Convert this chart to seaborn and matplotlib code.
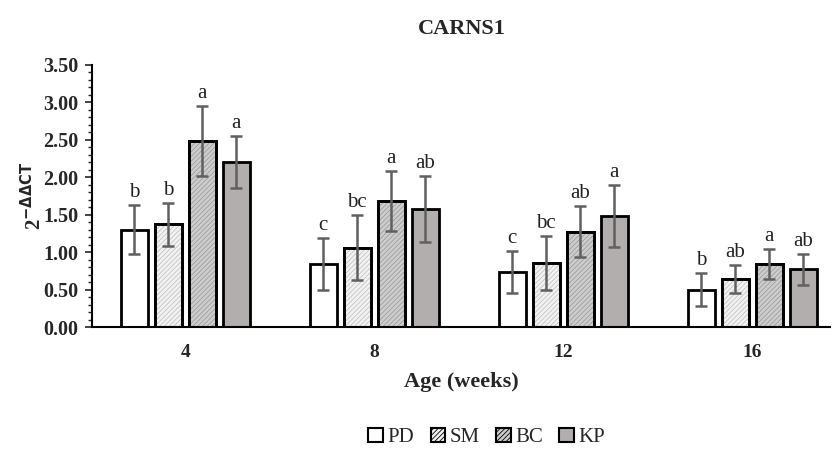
import numpy as np
import pandas as pd
import matplotlib
matplotlib.use("Agg")
import matplotlib.pyplot as plt
import seaborn as sns
from matplotlib.ticker import MultipleLocator
from matplotlib.patches import Patch, Rectangle

weeks = ["4", "8", "12", "16"]
groups = ["PD", "SM", "BC", "KP"]
means = {
    "PD": [1.30, 0.84, 0.74, 0.50],
    "SM": [1.37, 1.06, 0.86, 0.64],
    "BC": [2.48, 1.68, 1.27, 0.84],
    "KP": [2.20, 1.58, 1.48, 0.77],
}
errs = {
    "PD": [0.33, 0.35, 0.28, 0.22],
    "SM": [0.29, 0.43, 0.36, 0.19],
    "BC": [0.47, 0.40, 0.34, 0.20],
    "KP": [0.35, 0.44, 0.41, 0.21],
}
letters = {
    "PD": ["b", "c", "c", "b"],
    "SM": ["b", "bc", "bc", "ab"],
    "BC": ["a", "a", "ab", "a"],
    "KP": ["a", "ab", "a", "ab"],
}

sns.set_style("white")
plt.rcParams["font.family"] = ["Liberation Serif", "DejaVu Serif"]
plt.rcParams["hatch.linewidth"] = 0.6

rows = []
for g in groups:
    for i, w in enumerate(weeks):
        rows.append({"Week": w, "Group": g, "Value": means[g][i]})
df = pd.DataFrame(rows)

face = {"PD": "#ffffff", "SM": "#f2f2f2", "BC": "#cdcdcd", "KP": "#b3aeae"}
hatch = {"PD": "", "SM": "///////", "BC": "///////", "KP": ""}
hcol = {"PD": "black", "SM": "#c4c4c4", "BC": "#9e9e9e", "KP": "black"}

fig = plt.figure(figsize=(8.39, 4.5), dpi=100)
ax = fig.add_axes([0.110, 0.273, 0.879, 0.583])
sns.barplot(data=df, x="Week", y="Value", hue="Group", order=weeks, hue_order=groups,
            errorbar=None, width=0.72, gap=0.22, ax=ax, legend=False)

conts = list(ax.containers)
for gi, cont in enumerate(conts):
    g = groups[gi]
    for i, bar in enumerate(cont):
        bar.set_facecolor(face[g])
        bar.set_edgecolor("black")
        bar.set_linewidth(2.0)
        if hatch[g]:
            x0, y0 = bar.get_x(), bar.get_y()
            wd, ht = bar.get_width(), bar.get_height()
            r = Rectangle((x0, y0), wd, ht, facecolor="none", edgecolor=hcol[g],
                          hatch=hatch[g], linewidth=0, zorder=bar.get_zorder() + 0.1)
            ax.add_patch(r)
            r2 = Rectangle((x0, y0), wd, ht, facecolor="none", edgecolor="black",
                           linewidth=2.0, zorder=bar.get_zorder() + 0.2)
            ax.add_patch(r2)
        xc = bar.get_x() + bar.get_width() / 2
        m = means[g][i]
        e = errs[g][i]
        ax.errorbar(xc, m, yerr=e, color="#606060", capsize=4.5, capthick=1.8,
                    elinewidth=1.8, zorder=5)
        ax.text(xc, m + e + 0.04, letters[g][i], ha="center", va="bottom",
                fontsize=15, color="#222222")

ax.set_ylim(0, 3.5)
ax.set_xlim(-0.492, 3.41)
ax.yaxis.set_major_locator(MultipleLocator(0.5))
ax.yaxis.set_minor_locator(MultipleLocator(0.1))
ax.set_yticks(np.arange(0, 3.51, 0.5))
ax.set_yticklabels([f"{v:.2f}" for v in np.arange(0, 3.51, 0.5)], fontweight="bold", fontsize=14.5)
ax.tick_params(axis="y", which="major", direction="out", length=5, width=1.2, left=True, pad=5)
ax.tick_params(axis="y", which="minor", direction="out", length=3, width=1.0, left=True)
ax.tick_params(axis="x", length=0, labelsize=14, pad=12)
for t in ax.get_xticklabels():
    t.set_fontweight("bold")
for s in ["top", "right"]:
    ax.spines[s].set_visible(False)
ax.spines["left"].set_color("black")
ax.spines["left"].set_linewidth(1.5)
ax.spines["bottom"].set_color("black")
ax.spines["bottom"].set_linewidth(1.5)

ax.set_xlabel("Age (weeks)", fontsize=16, fontweight="bold", labelpad=8)
ax.set_ylabel(r"2$^{\mathbf{-\Delta\Delta CT}}$", fontsize=15, fontweight="bold")
ax.yaxis.set_label_coords(-0.062, 0.5)
fig.text(0.55, 0.935, "CARNS1", ha="center", va="center", fontsize=16, fontweight="bold")

handles = []
for g in groups:
    handles.append(Patch(facecolor=face[g], edgecolor="black", linewidth=1.5,
                         hatch=hatch[g] if hatch[g] else None))
fig.legend(handles, groups, loc="center", bbox_to_anchor=(0.58, 0.028), ncol=4,
           frameon=False, fontsize=15, handlelength=0.7, handleheight=0.7,
           handletextpad=0.2, columnspacing=0.8)

fig.savefig("out.png", dpi=100)
